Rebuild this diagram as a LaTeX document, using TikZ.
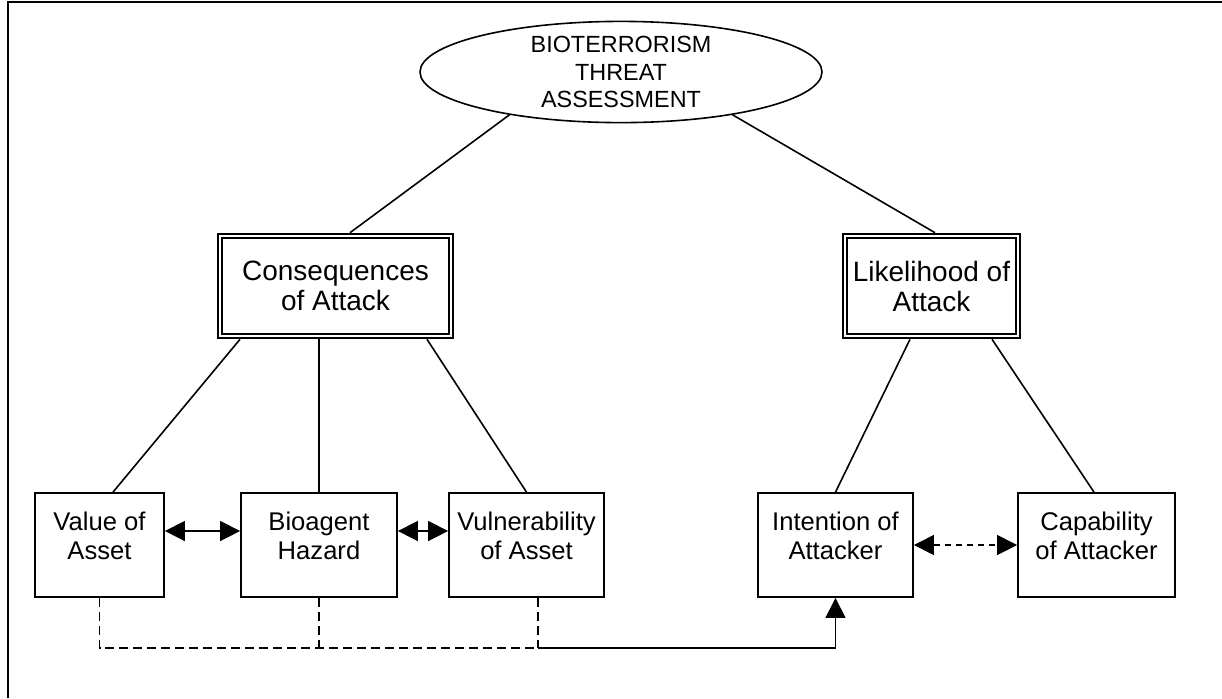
\documentclass[tikz,border=0pt]{standalone}
\usepackage{fontspec}
\setmainfont{Liberation Sans}
\usetikzlibrary{shapes.geometric,arrows.meta,calc}
\begin{document}
\begin{tikzpicture}[x=0.5pt,y=-0.5pt,
  bbox/.style={draw,line width=0.9pt,minimum width=#1,minimum height=52pt,inner sep=0pt},
  btext/.style={align=center,inner sep=0pt,font=\fontsize{12.8}{14.5}\selectfont},
  dbox/.style={draw,line width=1.3pt,minimum width=#1,minimum height=52pt,inner sep=0pt,
    align=center,font=\fontsize{14}{15}\selectfont},
  conn/.style={line width=0.8pt},
  dl/.style={line width=0.6pt,dash pattern=on 4.5pt off 2.5pt},
  tip/.style={{Triangle[length=10pt,width=10pt]}-{Triangle[length=10pt,width=10pt]}},
]
\useasboundingbox (0,0) rectangle (1222,698);
% frame
\coordinate (fTL) at (8,2);
\coordinate (fTR) at (1222,2);
\coordinate (fBL) at (8,698);
\draw[line width=1.3pt] (fBL) -- (fTL) -- (fTR);

% top ellipse
\node[ellipse,draw,line width=0.8pt,minimum width=201pt,minimum height=45pt,inner sep=0pt,
  align=center,font=\fontsize{11.7}{13.75}\selectfont] (ell) at (621,72)
  {BIOTERRORISM\\THREAT\\ASSESSMENT};

% double boxes
\node[dbox=117.5pt] (cons) at (335.5,286) {Consequences\\of Attack};
\node[dbox=88.5pt] (like) at (931.5,286) {Likelihood of\\Attack};
\foreach \n in {cons,like}{
  \draw[line width=0.7pt] ([shift={(2.6pt,-2.6pt)}]\n.north west) rectangle ([shift={(-2.6pt,2.6pt)}]\n.south east);
}

% bottom boxes
\node[bbox=64.5pt] (val) at (99.5,545) {};
\node[bbox=78pt] (bio) at (319,545) {};
\node[bbox=77.5pt] (vul) at (526.5,545) {};
\node[bbox=77.5pt] (int) at (835.5,545) {};
\node[bbox=78.5pt] (cap) at (1096.5,545) {};
\node[btext] (valt) at ([yshift=4.5pt]val.center) {Value of\\Asset};
\node[btext] (biot) at ([yshift=4.5pt]bio.center) {Bioagent\\Hazard};
\node[btext] (vult) at ([yshift=4.5pt]vul.center) {Vulnerability\\of Asset};
\node[btext] (intt) at ([yshift=4.5pt]int.center) {Intention of\\Attacker};
\node[btext] (capt) at ([yshift=4.5pt]cap.center) {Capability\\of Attacker};

% tree connectors
\draw[conn] (ell.201) -- ([xshift=7.25pt]cons.north);
\draw[conn] (ell.339) -- ([xshift=1.75pt]like.north);
\draw[conn] ([xshift=-47.75pt]cons.south) -- ([xshift=6.75pt]val.north);
\draw[conn] (bio.north) -- (bio.north |- cons.south);
\draw[conn] ([xshift=45.75pt]cons.south) -- (vul.north);
\draw[conn] ([xshift=-10.75pt]like.south) -- (int.north);
\draw[conn] ([xshift=30.25pt]like.south) -- ([xshift=-1.25pt]cap.north);

% horizontal arrows
\draw[conn,tip] ([yshift=7pt]val.east) -- ([yshift=7pt]bio.west);
\draw[conn,tip] ([yshift=7pt]bio.east) -- ([yshift=7pt]vul.west);
\draw[line width=0.6pt,dash pattern=on 3pt off 2.5pt,tip] (int.east) -- (cap.west);

% dashed feedback to intention
\coordinate (busy) at (0,648);
\draw[dl] (val.south) |- ([xshift=5.75pt]vul.south |- busy);
\draw[dl] (bio.south) -- (bio.south |- busy);
\draw[dl] ([xshift=5.75pt]vul.south) -- ([xshift=5.75pt]vul.south |- busy);
\draw[line width=0.6pt,-{Triangle[length=10pt,width=10pt]}] ([xshift=5.75pt]vul.south |- busy) -| (int.south);
\end{tikzpicture}
\end{document}
